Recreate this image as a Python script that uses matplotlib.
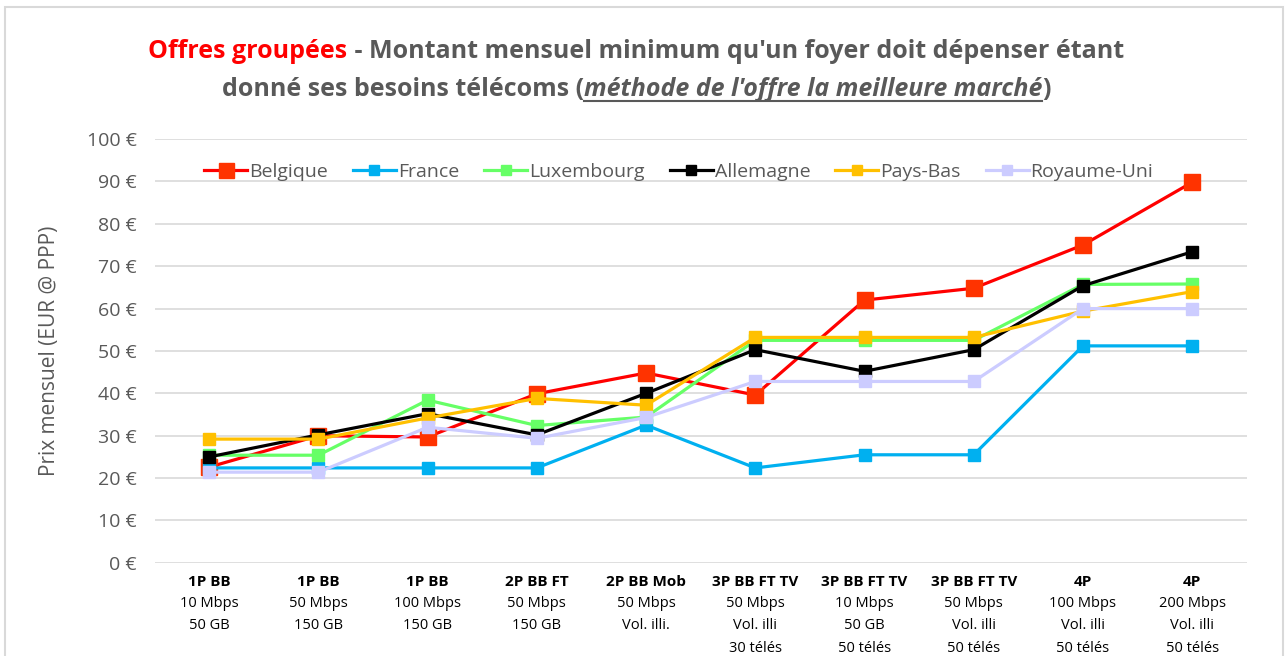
import matplotlib.pyplot as plt
from matplotlib.patches import Rectangle

plt.rcParams['font.family'] = ['Liberation Sans Narrow', 'Open Sans', 'DejaVu Sans']

cat_head = ['1P BB', '1P BB', '1P BB', '2P BB FT', '2P BB Mob',
            '3P BB FT TV', '3P BB FT TV', '3P BB FT TV', '4P', '4P']
cat_rest = [['10 Mbps', '50 GB'], ['50 Mbps', '150 GB'], ['100 Mbps', '150 GB'],
            ['50 Mbps', '150 GB'], ['50 Mbps', 'Vol. illi.'],
            ['50 Mbps', 'Vol. illi', '30 télés'], ['10 Mbps', '50 GB', '50 télés'],
            ['50 Mbps', 'Vol. illi', '50 télés'], ['100 Mbps', 'Vol. illi', '50 télés'],
            ['200 Mbps', 'Vol. illi', '50 télés']]

belgique = [22.6, 30.0, 29.7, 39.9, 44.8, 39.6, 62.0, 64.8, 75.0, 89.8]
france = [22.4, 22.4, 22.4, 22.4, 32.5, 22.4, 25.5, 25.5, 51.2, 51.2]
luxembourg = [25.4, 25.4, 38.4, 32.4, 34.4, 52.5, 52.5, 52.5, 65.7, 65.8]
allemagne = [25.0, 30.2, 35.2, 30.2, 40.0, 50.3, 45.2, 50.3, 65.4, 73.4]
pays_bas = [29.2, 29.2, 34.2, 38.8, 37.2, 53.2, 53.2, 53.2, 59.4, 64.0]
royaume_uni = [21.4, 21.4, 32.0, 29.4, 34.3, 42.8, 42.8, 42.8, 60.0, 60.0]

series = [
    ('Belgique', belgique, '#FF0000', '#FF3300', 12),
    ('France', france, '#00B0F0', '#00B0F0', 8),
    ('Luxembourg', luxembourg, '#66FF66', '#66FF66', 8),
    ('Allemagne', allemagne, '#000000', '#000000', 8),
    ('Pays-Bas', pays_bas, '#FFC000', '#FFC000', 8),
    ('Royaume-Uni', royaume_uni, '#CCCCFF', '#CCCCFF', 8),
]

gray = '#595959'
fig = plt.figure(figsize=(12.88, 6.56), dpi=100)
fig.patches.append(Rectangle((5 / 1288, -0.1), 1278 / 1288, 1.09, transform=fig.transFigure,
                             fill=False, edgecolor='#D9D9D9', lw=1.5))
ax = fig.add_axes([0.12, 0.142, 0.848, 0.646])

x = list(range(len(cat_head)))
for name, vals, lc, mc, ms in series:
    ax.plot(x, vals, color=lc, lw=2.3, marker='s', ms=ms, mfc=mc, mec=mc, label=name)

ax.set_ylim(0, 100)
ax.set_xlim(-0.5, len(x) - 0.5)
ax.set_yticks(range(0, 101, 10))
ax.set_yticklabels([f'{v} €' for v in range(0, 101, 10)], color=gray, fontsize=14)
ax.set_xticks([])
ax.tick_params(axis='y', length=0, pad=13)
ax.grid(axis='y', color='#D9D9D9', lw=1.2)
ax.set_axisbelow(True)
for s in ax.spines.values():
    s.set_visible(False)
ax.set_ylabel('Prix mensuel (EUR @ PPP)', color=gray, fontsize=15, labelpad=19)

tr = ax.get_xaxis_transform()
for i, (h, rest) in enumerate(zip(cat_head, cat_rest)):
    ax.text(i, -0.045, h, transform=tr, ha='center', va='center', fontsize=11,
            fontweight='bold', color='black')
    for j, line in enumerate(rest):
        ax.text(i, -0.045 - 0.052 * (j + 1), line, transform=tr, ha='center', va='center',
                fontsize=10.5, color='black')

ax.legend(loc='upper center', bbox_to_anchor=(0.48, 0.985), ncol=6, frameon=False,
          fontsize=14, labelcolor=gray, handlelength=2.2, handletextpad=0.1,
          columnspacing=1.3, markerscale=0.9)

# title built from pieces
fig.canvas.draw()
r = fig.canvas.get_renderer()


def draw_pieces(pieces, y, cx):
    texts = []
    for s, c, st in pieces:
        t = fig.text(0, y, s, color=c, fontsize=18, fontweight='bold', style=st,
                     va='baseline', transform=None)
        texts.append(t)
    widths = [t.get_window_extent(r).width for t in texts]
    xpos = cx - sum(widths) / 2
    out = []
    for t, w in zip(texts, widths):
        t.set_x(xpos)
        out.append((xpos, w))
        xpos += w
    return out


H = 656
draw_pieces([('Offres groupées', '#FF0000', 'normal'),
             (" - Montant mensuel minimum qu'un foyer doit dépenser étant", gray, 'normal')],
            H - 58, 636)
pos = draw_pieces([('donné ses besoins télécoms (', gray, 'normal'),
                   ("méthode de l'offre la meilleure marché", gray, 'italic'),
                   (')', gray, 'normal')], H - 96, 636)
ux, uw = pos[1]
fig.add_artist(plt.Line2D([ux, ux + uw], [H - 101, H - 101], transform=None,
                          color=gray, lw=1.5))

fig.savefig('out.png', dpi=100)
